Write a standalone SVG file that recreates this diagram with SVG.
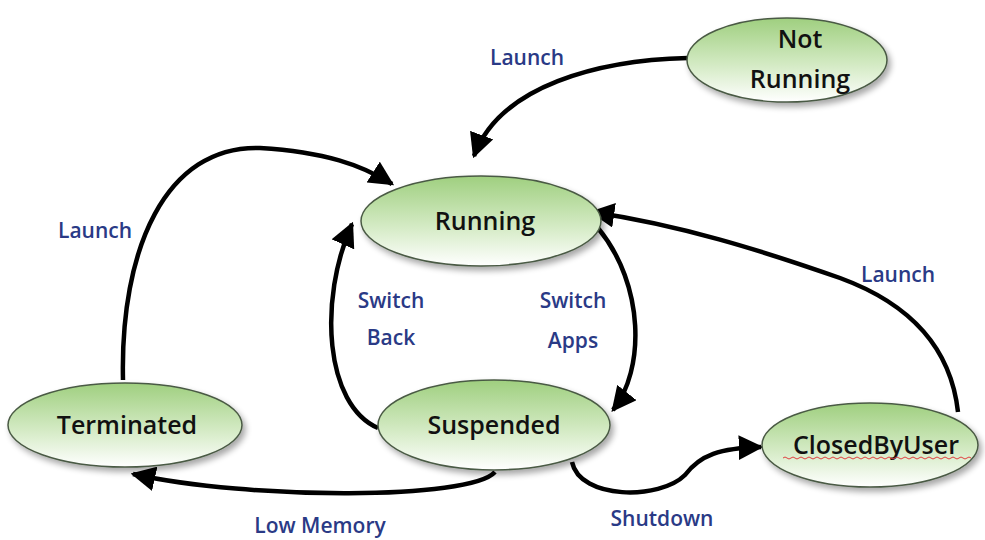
<svg xmlns="http://www.w3.org/2000/svg" width="985" height="540" viewBox="0 0 985 540">
<defs>
<linearGradient id="g" x1="0" y1="0" x2="0" y2="1">
<stop offset="0" stop-color="#9fcf7f"/>
<stop offset="0.55" stop-color="#d3eac3"/>
<stop offset="1" stop-color="#ffffff"/>
</linearGradient>
<filter id="sh" x="-20%" y="-20%" width="140%" height="150%">
<feGaussianBlur in="SourceAlpha" stdDeviation="3"/>
<feOffset dx="3" dy="4" result="b"/>
<feComponentTransfer><feFuncA type="linear" slope="0.35"/></feComponentTransfer>
<feMerge><feMergeNode/><feMergeNode in="SourceGraphic"/></feMerge>
</filter>
<marker id="ah" viewBox="0 0 10 10" refX="9" refY="5" markerWidth="5.5" markerHeight="5.5" orient="auto" markerUnits="strokeWidth">
<path d="M0,0 L10,5 L0,10 z" fill="#000"/>
</marker>
</defs>
<style>
.node ellipse{fill:url(#g);stroke:#4a5a44;stroke-width:1.5;filter:url(#sh)}
.nt{font-family:"Open Sans","DejaVu Sans",sans-serif;font-size:25px;font-weight:600;fill:#111;text-anchor:middle}
.lb{font-family:"Open Sans","DejaVu Sans",sans-serif;font-size:21px;font-weight:600;fill:#2a3a86;text-anchor:middle}
.cn path{fill:none;stroke:#000;stroke-width:4.5;marker-end:url(#ah)}
</style>
<rect width="985" height="540" fill="#fff"/>
<g id="connectors" class="cn">
<path d="M688,58 C600,60 500,85 474,156"/>
<path d="M123,380 C120,250 165,145 260,148 C325,152 362,165 392,184"/>
<path d="M378,428 C325,405 318,300 352,224"/>
<path d="M598,228 C645,285 645,370 613,410"/>
<path d="M958,412 C950,340 900,300 840,278 C760,250 680,225 592,212"/>
<path d="M495,472 C470,500 250,500 133,474"/>
<path d="M572,462 C580,500 660,500 685,475 C700,455 720,448 761,447"/>
</g>
<g id="not-running" class="node">
<ellipse cx="787" cy="60" rx="100" ry="42"/>
<text class="nt" x="800" y="48">Not</text>
<text class="nt" x="800" y="88">Running</text>
</g>
<g id="running" class="node">
<ellipse cx="481" cy="221" rx="120" ry="45"/>
<text class="nt" x="485" y="230">Running</text>
</g>
<g id="terminated" class="node">
<ellipse cx="125" cy="425" rx="117" ry="42"/>
<text class="nt" x="127" y="434">Terminated</text>
</g>
<g id="suspended" class="node">
<ellipse cx="494" cy="425" rx="116" ry="45"/>
<text class="nt" x="494" y="434">Suspended</text>
</g>
<g id="closed-by-user" class="node">
<ellipse cx="870" cy="445" rx="108" ry="42"/>
<text class="nt" x="876" y="454">ClosedByUser</text>
<path d="M783,458 q2,-2 4,0 t4,0 t4,0 t4,0 t4,0 t4,0 t4,0 t4,0 t4,0 t4,0 t4,0 t4,0 t4,0 t4,0 t4,0 t4,0 t4,0 t4,0 t4,0 t4,0 t4,0 t4,0 t4,0 t4,0 t4,0 t4,0 t4,0 t4,0 t4,0 t4,0 t4,0 t4,0 t4,0 t4,0 t4,0 t4,0 t4,0 t4,0 t4,0 t4,0 t4,0 t4,0 t4,0 t4,0 t4,0 t4,0 t4,0" fill="none" stroke="#e04040" stroke-width="1"/>
</g>
<g id="labels">
<text class="lb" x="527" y="65">Launch</text>
<text class="lb" x="95" y="238">Launch</text>
<text class="lb" x="391" y="308">Switch</text>
<text class="lb" x="391" y="345">Back</text>
<text class="lb" x="573" y="308">Switch</text>
<text class="lb" x="573" y="348">Apps</text>
<text class="lb" x="898" y="282">Launch</text>
<text class="lb" x="320" y="533">Low Memory</text>
<text class="lb" x="662" y="526">Shutdown</text>
</g>
</svg>
